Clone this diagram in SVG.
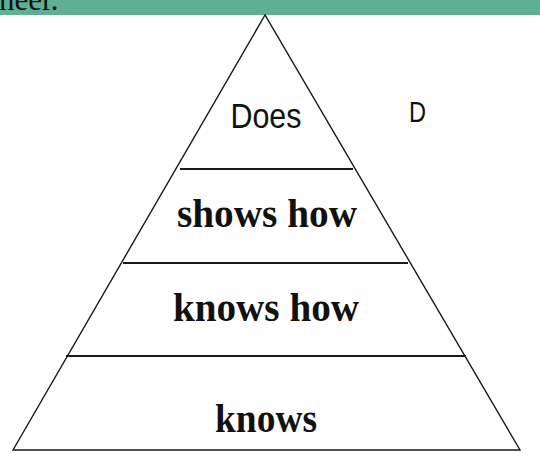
<svg xmlns="http://www.w3.org/2000/svg" width="540" height="471" viewBox="0 0 540 471">
<style>
.edge{fill:none;stroke:#1a1a1a;stroke-width:1.4}
.div{stroke:#1a1a1a;stroke-width:1.8}
.sans{font-family:"Liberation Sans",Arial,sans-serif;fill:#111}
.serif{font-family:"Liberation Serif","Times New Roman",serif;fill:#111}
.bold{font-weight:bold;text-anchor:middle;font-size:41px}
</style>
<rect width="540" height="471" fill="#fff"/>
<g id="header">
<rect x="0" y="0" width="540" height="15" fill="#5eb095"/>
<text class="serif" x="-1" y="10" font-size="31">neer.</text>
</g>
<g id="pyramid">
<polygon class="edge" points="265,15 13,450 520,450"/>
</g>
<g id="connectors">
<line class="div" x1="180" y1="169" x2="353" y2="169"/>
<line class="div" x1="123" y1="263" x2="408" y2="263"/>
<line class="div" x1="66" y1="356" x2="466" y2="356"/>
</g>
<g id="tier-does">
<text class="sans" x="266" y="128" font-size="35" text-anchor="middle" textLength="71" lengthAdjust="spacingAndGlyphs">Does</text>
</g>
<g id="label-d">
<text class="sans" x="409" y="122" font-size="30" textLength="17" lengthAdjust="spacingAndGlyphs">D</text>
</g>
<g id="tier-shows-how">
<text class="serif bold" x="267" y="227" textLength="180" lengthAdjust="spacingAndGlyphs">shows how</text>
</g>
<g id="tier-knows-how">
<text class="serif bold" x="266" y="321" textLength="186" lengthAdjust="spacingAndGlyphs">knows how</text>
</g>
<g id="tier-knows">
<text class="serif bold" x="266" y="432" textLength="102" lengthAdjust="spacingAndGlyphs">knows</text>
</g>
</svg>
